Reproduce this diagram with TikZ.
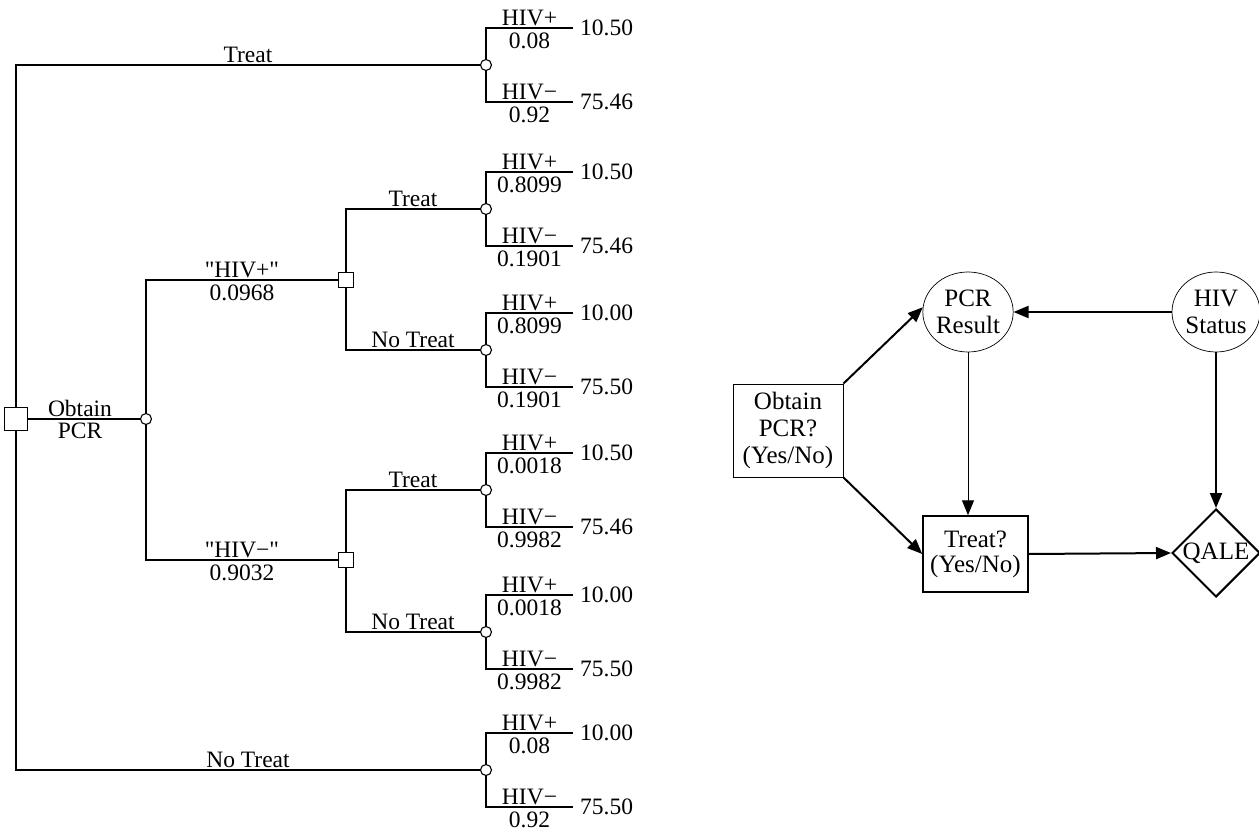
\documentclass[tikz,border=0pt]{standalone}
\usepackage{fontspec}
\setmainfont{Liberation Serif}
\usetikzlibrary{arrows.meta,shapes.geometric,calc}

% straight double quote, bypassing the TeX ligature mapping
\newcommand{\sdq}{\XeTeXglyph\XeTeXcharglyph"22\relax}

% outcome pair of a chance node: #1 node, #2 p(HIV+), #3 value, #4 p(HIV-), #5 value
\newcommand{\hivends}[5]{%
  \coordinate (#1p) at ($(#1)+(87,-37)$);
  \coordinate (#1m) at ($(#1)+(87,37)$);
  \draw[br] (#1) |- (#1p) node[lab,pos=0.75,above=1.5pt]{HIV+} node[lab,pos=0.75,below=3.5pt]{#2};
  \draw[br] (#1) |- (#1m) node[lab,pos=0.75,above=1.5pt]{HIV−} node[lab,pos=0.75,below=3.5pt]{#4};
  \node[val] (#1pv) at (#1p) {#3};
  \node[val] (#1mv) at (#1m) {#5};
}

\begin{document}
\begin{tikzpicture}[x=1pt,y=-1pt,
  br/.style={line width=1.1pt},
  decbox/.style={draw,line width=1.1pt,fill=white,rectangle,minimum size=15pt,inner sep=0pt},
  rootbox/.style={decbox,minimum size=23pt},
  chance/.style={draw,line width=1.1pt,fill=white,circle,minimum size=11pt,inner sep=0pt},
  lab/.style={font=\fontsize{23.5}{26}\selectfont,inner sep=0.5pt},
  val/.style={font=\fontsize{23.5}{26}\selectfont,anchor=west,inner sep=1pt,xshift=6pt},
  idfont/.style={font=\fontsize{25}{27}\selectfont,align=center,inner sep=0pt},
  arr/.style={line width=2pt,-{Triangle[length=15pt,width=12pt]}},
  thinarr/.style={line width=1pt,-{Triangle[length=15pt,width=12pt]}}
]
\useasboundingbox (0,0) rectangle (1259,834);

% ---------------- decision tree ----------------
\node[rootbox] (root) at (16,419) {};
\node[chance] (c0) at (146,419) {};
\node[decbox] (d1) at (346,280) {};
\node[decbox] (d2) at (346,560) {};
\node[chance] (t0) at (486,65) {};
\node[chance] (n0) at (486,770) {};
\node[chance] (c1) at (486,209) {};
\node[chance] (c2) at (486,350) {};
\node[chance] (c3) at (486,490) {};
\node[chance] (c4) at (486,632) {};

\draw[br] (root) |- (t0) node[lab,pos=0.75,above=1.5pt]{Treat};
\draw[br] (root) |- (n0) node[lab,pos=0.75,above=1.5pt]{No Treat};
\draw[br] (root) -- (c0) node[lab,midway,above=1.5pt,xshift=-4pt]{Obtain}
                       node[lab,midway,below=3pt,xshift=-4pt]{PCR};

\draw[br] (c0) |- (d1) node[lab,pos=0.75,above=1.5pt]{\sdq HIV+\sdq} node[lab,pos=0.75,below=3.5pt]{0.0968};
\draw[br] (c0) |- (d2) node[lab,pos=0.75,above=1.5pt]{\sdq HIV−\sdq} node[lab,pos=0.75,below=3.5pt]{0.9032};

\draw[br] (d1) |- (c1) node[lab,pos=0.75,above=1.5pt]{Treat};
\draw[br] (d1) |- (c2) node[lab,pos=0.75,above=1.5pt]{No Treat};
\draw[br] (d2) |- (c3) node[lab,pos=0.75,above=1.5pt]{Treat};
\draw[br] (d2) |- (c4) node[lab,pos=0.75,above=1.5pt]{No Treat};

\hivends{t0}{0.08}{10.50}{0.92}{75.46}
\hivends{c1}{0.8099}{10.50}{0.1901}{75.46}
\hivends{c2}{0.8099}{10.00}{0.1901}{75.50}
\hivends{c3}{0.0018}{10.50}{0.9982}{75.46}
\hivends{c4}{0.0018}{10.00}{0.9982}{75.50}
\hivends{n0}{0.08}{10.00}{0.92}{75.50}

% ---------------- influence diagram ----------------
\node[idfont,draw,line width=0.8pt,rectangle,minimum width=110pt,minimum height=93pt]
  (obt) at (788,430.5) {Obtain\\PCR?\\(Yes/No)};
\node[idfont,draw,line width=0.7pt,ellipse,minimum width=88pt,minimum height=80pt]
  (pcr) at (968,312) {PCR\\Result};
\node[idfont,draw,line width=0.7pt,ellipse,minimum width=88pt,minimum height=80pt]
  (hiv) at (1216,312) {HIV\\Status};
\node[idfont,draw,line width=1.5pt,rectangle,minimum width=105pt,minimum height=76pt,
  font=\fontsize{25}{25}\selectfont]
  (treat) at (975.5,554) {Treat?\\(Yes/No)};
\node[idfont,draw,line width=2pt,diamond,minimum width=88pt,minimum height=88pt]
  (qale) at (1216,553) {QALE};

\draw[arr] (hiv.west) -- (pcr.east);
\draw[arr] (obt.north east) -- (pcr.174);
\draw[arr] (obt.south east) -- (treat.west);
\draw[thinarr] (pcr.south) -- (pcr.south |- treat.north);
\draw[arr] (hiv.south) -- (qale.north);
\draw[arr] (treat.east) -- (qale.west);
\end{tikzpicture}
\end{document}
